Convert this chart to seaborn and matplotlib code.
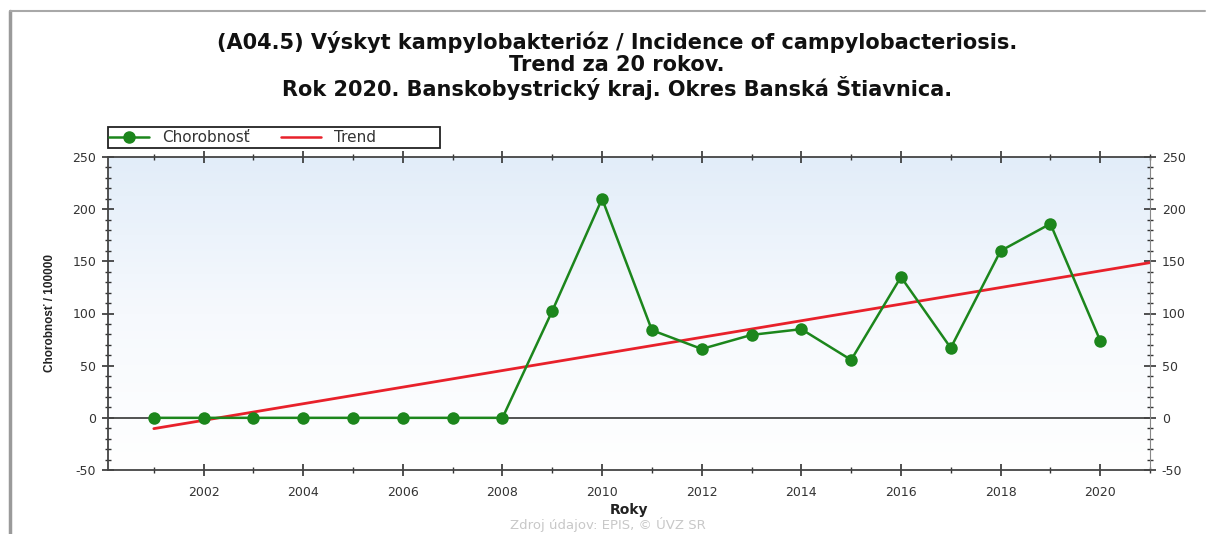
import numpy as np
import pandas as pd
import matplotlib
matplotlib.use("Agg")
import matplotlib.pyplot as plt
import seaborn as sns
from matplotlib.ticker import MultipleLocator
from matplotlib.colors import LinearSegmentedColormap
from matplotlib.lines import Line2D
from matplotlib.patches import Rectangle

# ================= Data =================
years = [2001, 2002, 2003, 2004, 2005, 2006, 2007, 2008, 2009, 2010,
         2011, 2012, 2013, 2014, 2015, 2016, 2017, 2018, 2019, 2020]
incidence = [0, 0, 0, 0, 0, 0, 0, 0, 102.5, 210,
             84, 66, 79.5, 85, 55.5, 135, 67, 160, 186, 74]

title_lines = ["(A04.5) Výskyt kampylobakterióz / Incidence of campylobacteriosis.",
               "Trend za 20 rokov.",
               "Rok 2020. Banskobystrický kraj. Okres Banská Štiavnica."]
y_label = "Chorobnosť / 100000"
x_label = "Roky"
source = "Zdroj údajov: EPIS, © ÚVZ SR"
legend_labels = ["Chorobnosť", "Trend"]

df = pd.DataFrame({"Rok": years, "Chorobnost": incidence})

# linear trend fitted on the data, drawn one year past the last point
coef = np.polyfit(df["Rok"], df["Chorobnost"], 1)
trend_x = np.array([years[0], years[-1] + 1])
df_trend = pd.DataFrame({"Rok": trend_x, "Trend": np.polyval(coef, trend_x)})

# ================= Style =================
sns.set_style("white")
plt.rcParams["font.family"] = ["DejaVu Sans"]
plt.rcParams["axes.unicode_minus"] = False

GREEN = "#1c861c"
RED = "#e8212b"
W, H = 1211, 534

fig = plt.figure(figsize=(W / 100, H / 100), dpi=100)
ax = fig.add_axes([108 / W, 1 - 470 / H, 1042 / W, 313 / H])

xlim = (2000.08, 2021.0)
ylim = (-50, 250)

# light blue gradient in the plot area
grad = LinearSegmentedColormap.from_list("bg", ["#ffffff", "#f6f9fd", "#e2edf9"])
ax.imshow(np.linspace(0, 1, 256).reshape(-1, 1), aspect="auto", cmap=grad,
          extent=[xlim[0], xlim[1], ylim[0], ylim[1]], origin="lower", zorder=0)

ax.axhline(0, color="#444444", lw=1.3, zorder=1)

sns.lineplot(data=df_trend, x="Rok", y="Trend", color=RED, lw=2.0, ax=ax, zorder=2)
sns.lineplot(data=df, x="Rok", y="Chorobnost", color=GREEN, lw=1.8, marker="o",
             markersize=9, markeredgewidth=0, ax=ax, zorder=3)

ax.set_xlim(*xlim)
ax.set_ylim(*ylim)

ax.xaxis.set_major_locator(MultipleLocator(2))
ax.xaxis.set_minor_locator(MultipleLocator(1))
ax.yaxis.set_major_locator(MultipleLocator(50))
ax.yaxis.set_minor_locator(MultipleLocator(10))

ax.tick_params(which="both", direction="inout", bottom=True, left=True,
               top=True, right=True, labelright=True,
               color="#333333", labelcolor="#333333", labelsize=9)
ax.tick_params(which="major", length=9, width=1.2)
ax.tick_params(which="minor", length=5, width=1.0)
ax.tick_params(axis="x", pad=7)
ax.tick_params(axis="y", pad=4)

for sp in ["left", "bottom", "top", "right"]:
    ax.spines[sp].set_color("#444444")
    ax.spines[sp].set_linewidth(1.3)
ax.spines["right"].set_linewidth(0.8)
ax.spines["right"].set_color("#888888")

ax.set_xlabel(x_label, fontsize=10, fontweight="bold", labelpad=3, color="#222222")
ax.set_ylabel(y_label, fontsize=8.5, fontweight="bold", labelpad=12,
              family="Liberation Sans", color="#222222")
ax.grid(False)

# legend box above the plot area
ax.add_patch(Rectangle((0, 1.0288), 0.3186, 0.067, transform=ax.transAxes,
                       fill=False, edgecolor="#222222", lw=1.3, clip_on=False))
handles = [Line2D([], [], color=GREEN, lw=1.8, marker="o", markersize=8),
           Line2D([], [], color=RED, lw=1.8)]
leg = ax.legend(handles, legend_labels, loc="center left",
                bbox_to_anchor=(0.001, 1.062), ncol=2, frameon=False,
                fontsize=11, handlelength=2.6, borderpad=0.0,
                handletextpad=0.9, columnspacing=2.0, borderaxespad=0)
for t in leg.get_texts():
    t.set_color("#333333")

# titles
for i, line in enumerate(title_lines):
    fig.text(617 / W, 1 - (42 + 23 * i) / H, line, ha="center", va="center",
             fontsize=15, fontweight="bold", color="#111111")

fig.text(608 / W, 1 - 525 / H, source, ha="center", va="center",
         fontsize=9.5, color="#c8c8c8")

# screenshot frame lines
fig.add_artist(Line2D([10 / W, 10 / W], [0, 1 - 11 / H],
                      transform=fig.transFigure, color="#9a9a9a", lw=2.5))
fig.add_artist(Line2D([10 / W, 1205 / W], [1 - 11 / H, 1 - 11 / H],
                      transform=fig.transFigure, color="#a8a8a8", lw=1.5))

fig.savefig("out.png", dpi=100)
